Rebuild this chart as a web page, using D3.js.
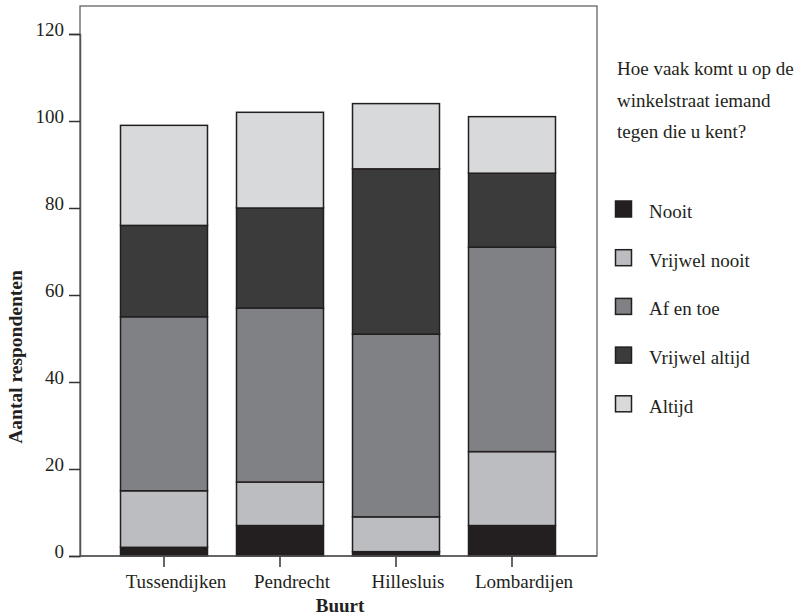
<!DOCTYPE html>
<html><head><meta charset="utf-8">
<script src="https://cdn.jsdelivr.net/npm/d3@7"></script>
</head><body style="margin:0;background:#fff">
<script>
const categories = ["Tussendijken","Pendrecht","Hillesluis","Lombardijen"];
const seriesNames = ["Nooit","Vrijwel nooit","Af en toe","Vrijwel altijd","Altijd"];
const nooit = [2,7,1,7];
const vrijwelNooit = [13,10,8,17];
const afEnToe = [40,40,42,47];
const vrijwelAltijd = [21,23,38,17];
const altijd = [23,22,15,13];
const yTicks = [0,20,40,60,80,100,120];
const colors = ["#231f20","#bcbdc0","#808184","#3b3b3b","#d8d9db"];
const legendTitle = ["Hoe vaak komt u op de","winkelstraat iemand","tegen die u kent?"];

const FONT="'Liberation Serif'";
const W=804,H=616;
const svg=d3.select("body").append("svg").attr("width",W).attr("height",H).style("display","block").style("font-family",FONT);
const L=80,R=597,T=6,B=556;
const y=d3.scaleLinear().domain([0,120]).range([B,34]);
const x=d3.scaleBand().domain(categories).range([106,570]).paddingInner(0.25).paddingOuter(0.125);

const table=categories.map((c,i)=>({cat:c,"Nooit":nooit[i],"Vrijwel nooit":vrijwelNooit[i],"Af en toe":afEnToe[i],"Vrijwel altijd":vrijwelAltijd[i],"Altijd":altijd[i]}));
const stack=d3.stack().keys(seriesNames)(table);

svg.append("rect").attr("x",L).attr("y",T).attr("width",R-L).attr("height",B-T).attr("fill","none").attr("stroke","#555").attr("stroke-width",1.2);

stack.forEach((s,si)=>{
  svg.append("g").selectAll("rect").data(s).join("rect")
    .attr("x",d=>x(d.data.cat)).attr("width",x.bandwidth())
    .attr("y",d=>y(d[1])).attr("height",d=>y(d[0])-y(d[1]))
    .attr("fill",colors[si]).attr("stroke","#231f20").attr("stroke-width",1.5);
});

const ya=svg.append("g").attr("transform",`translate(${L},0)`).call(d3.axisLeft(y).tickValues(yTicks).tickSize(11).tickPadding(5));
ya.attr("font-family","Liberation Serif").attr("font-size",19);
ya.select(".domain").attr("stroke","#555").attr("stroke-width",1.5);
ya.selectAll(".tick line").attr("stroke","#333").attr("stroke-width",1.5);
ya.selectAll(".tick text").attr("dy","0.1em").attr("fill","#231f20");

const xa=svg.append("g").attr("transform",`translate(0,${B})`).call(d3.axisBottom(x).tickSize(11).tickPadding(8));
xa.attr("font-family","Liberation Serif").attr("font-size",19);
xa.select(".domain").remove();
xa.selectAll(".tick line").attr("stroke","#333").attr("stroke-width",1.5);
xa.selectAll(".tick text").attr("dx",12).attr("fill","#231f20");
svg.append("line").attr("x1",L).attr("x2",R).attr("y1",B).attr("y2",B).attr("stroke","#555").attr("stroke-width",1.5);

svg.append("text").attr("x",340).attr("y",612).attr("text-anchor","middle").attr("font-size",19).attr("font-weight","bold").attr("fill","#231f20").text("Buurt");
svg.append("text").attr("transform","translate(22,357) rotate(-90)").attr("text-anchor","middle").attr("font-size",19.5).attr("font-weight","bold").attr("fill","#231f20").text("Aantal respondenten");

legendTitle.forEach((t,i)=>svg.append("text").attr("x",617).attr("y",75+i*31.5).attr("font-size",19).attr("fill","#231f20").text(t));
seriesNames.forEach((n,i)=>{
  const cy=209+i*48.7;
  svg.append("rect").attr("x",615.5).attr("y",cy-8).attr("width",16).attr("height",16).attr("fill",colors[i]).attr("stroke","#231f20").attr("stroke-width",1.5);
  svg.append("text").attr("x",649).attr("y",cy+9).attr("font-size",19).attr("fill","#231f20").text(n);
});
</script>
</body></html>
